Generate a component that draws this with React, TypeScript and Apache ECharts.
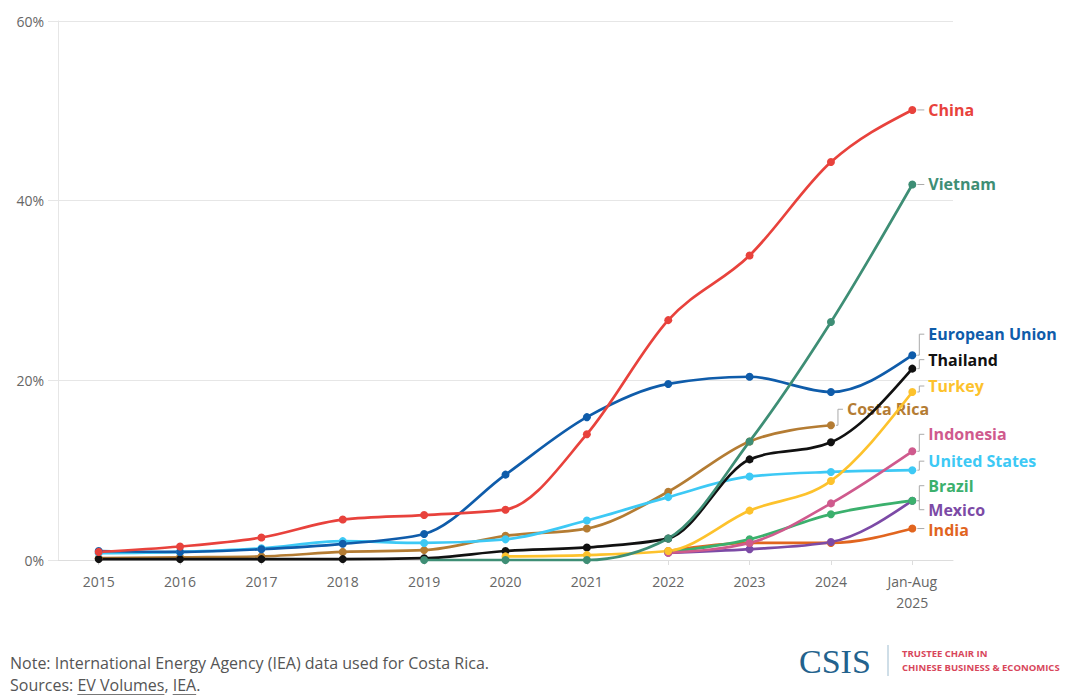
import React, { useEffect, useRef } from "react";
import * as echarts from "echarts";

// Share of EV sales by market, in percent
const categories = ["2015", "2016", "2017", "2018", "2019", "2020", "2021", "2022", "2023", "2024", "Jan-Aug\n2025"];

const china = [0.9, 1.5, 2.5, 4.5, 5.0, 5.6, 14.0, 26.7, 33.9, 44.3, 50.1];
const vietnam = [null, null, null, null, 0, 0, 0, 2.4, 13.2, 26.5, 41.8];
const europeanUnion = [1.0, 0.9, 1.2, 1.8, 2.9, 9.5, 15.9, 19.6, 20.4, 18.7, 22.8];
const thailand = [0.1, 0.1, 0.1, 0.1, 0.2, 1.0, 1.4, 2.4, 11.2, 13.1, 21.3];
const turkey = [null, null, null, null, null, 0.4, 0.55, 1.0, 5.5, 8.8, 18.7];
const costaRica = [0.2, 0.3, 0.4, 0.9, 1.1, 2.7, 3.5, 7.6, 13.2, 15.0, null];
const indonesia = [null, null, null, null, null, null, null, 0.8, 1.9, 6.3, 12.1];
const unitedStates = [0.75, 0.9, 1.3, 2.1, 1.9, 2.3, 4.4, 7.0, 9.3, 9.8, 10.0];
const brazil = [null, null, null, null, null, null, null, 0.9, 2.3, 5.1, 6.6];
const mexico = [null, null, null, null, null, null, null, 0.8, 1.2, 2.0, 6.6];
const india = [null, null, null, null, null, null, null, 1.0, 1.9, 1.9, 3.5];

const yMin = 0;
const yMax = 60;
const yStep = 20;

const noteText = "Note: International Energy Agency (IEA) data used for Costa Rica.";
const sourcePrefix = "Sources: ";
const sourceLinks = ["EV Volumes", "IEA"];

// Drawing order: later entries sit on top
const seriesDefs: { name: string; data: (number | null)[]; color: string }[] = [
  { name: "Costa Rica", data: costaRica, color: "#b47c33" },
  { name: "United States", data: unitedStates, color: "#3dc9f5" },
  { name: "India", data: india, color: "#e1651f" },
  { name: "Mexico", data: mexico, color: "#7c4aa6" },
  { name: "Brazil", data: brazil, color: "#3bb06d" },
  { name: "Indonesia", data: indonesia, color: "#cf5a8d" },
  { name: "Thailand", data: thailand, color: "#111111" },
  { name: "European Union", data: europeanUnion, color: "#0f5caa" },
  { name: "China", data: china, color: "#e8423c" },
  { name: "Turkey", data: turkey, color: "#fdc22c" },
  { name: "Vietnam", data: vietnam, color: "#3e8e75" },
];

// Vertical nudges (px) for the end labels so they don't collide
const labelShift: Record<string, number> = {
  China: 0,
  Vietnam: 0,
  "European Union": -21,
  Thailand: -9,
  Turkey: -6,
  "Costa Rica": -16,
  Indonesia: -17,
  "United States": -9,
  Brazil: -15,
  Mexico: 9,
  India: 1,
};

const FONT = "'Open Sans', 'Noto Sans', sans-serif";
const LINE_WIDTH = 2.7;

function measure(text: string, font: string): number {
  const c = document.createElement("canvas").getContext("2d");
  if (!c) return text.length * 7;
  c.font = font;
  return c.measureText(text).width;
}

// Monotone cubic (Steffen style) path through pixel points
function monotonePath(pts: number[][]): string {
  const n = pts.length;
  if (n === 0) return "";
  if (n === 1) return `M${pts[0][0]},${pts[0][1]}`;
  const sign = (v: number) => (v < 0 ? -1 : 1);
  const h: number[] = [];
  const s: number[] = [];
  for (let i = 0; i < n - 1; i++) {
    h.push(pts[i + 1][0] - pts[i][0]);
    s.push((pts[i + 1][1] - pts[i][1]) / h[i]);
  }
  const t: number[] = new Array(n).fill(0);
  for (let i = 1; i < n - 1; i++) {
    const s0 = s[i - 1];
    const s1 = s[i];
    const p = (s0 * h[i] + s1 * h[i - 1]) / (h[i - 1] + h[i]);
    t[i] = (sign(s0) + sign(s1)) * Math.min(Math.abs(s0), Math.abs(s1), 0.5 * Math.abs(p)) || 0;
  }
  if (n === 2) {
    t[0] = s[0];
    t[1] = s[0];
  } else {
    t[0] = (3 * s[0] - t[1]) / 2;
    t[n - 1] = (3 * s[n - 2] - t[n - 2]) / 2;
  }
  let d = `M${pts[0][0]},${pts[0][1]}`;
  for (let i = 0; i < n - 1; i++) {
    const [x0, y0] = pts[i];
    const [x1, y1] = pts[i + 1];
    const dx = (x1 - x0) / 3;
    d += ` C${x0 + dx},${y0 + dx * t[i]} ${x1 - dx},${y1 - dx * t[i + 1]} ${x1},${y1}`;
  }
  return d;
}

export default function App() {
  const ref = useRef<HTMLDivElement>(null);

  useEffect(() => {
    document.body.style.margin = "0";
    if (!ref.current) return;
    const chart = echarts.init(ref.current, undefined, { renderer: "svg" });

    const series: any[] = [];
    seriesDefs.forEach((s) => {
      const pairs = s.data
        .map((v, i) => (v == null ? null : [i, v]))
        .filter((p) => p !== null) as number[][];
      // Smoothed connecting curve
      series.push({
        name: s.name,
        type: "custom",
        coordinateSystem: "cartesian2d",
        data: pairs,
        encode: { x: 0, y: 1 },
        silent: true,
        renderItem: (params: any, api: any) => {
          if (params.dataIndex !== 0) return { type: "group", children: [] };
          const px = pairs.map((p) => api.coord(p));
          return {
            type: "path",
            shape: { pathData: monotonePath(px) },
            style: { stroke: s.color, lineWidth: LINE_WIDTH, fill: "none", lineJoin: "round", lineCap: "round" },
          };
        },
      });
      // Data points
      series.push({
        name: s.name,
        type: "scatter",
        data: pairs,
        symbol: "circle",
        symbolSize: 8,
        itemStyle: { color: s.color, opacity: 1 },
        emphasis: { disabled: true },
        silent: true,
      });
    });

    chart.setOption({
      animation: false,
      backgroundColor: "#ffffff",
      grid: { left: 58, right: 132, top: 21, bottom: 137, containLabel: false },
      xAxis: {
        type: "category",
        data: categories,
        boundaryGap: true,
        axisLine: { show: true, lineStyle: { color: "#dddddd", width: 1 } },
        axisTick: { show: true, alignWithLabel: true, length: 5, lineStyle: { color: "#dddddd" } },
        axisLabel: { color: "#666666", fontSize: 14, fontFamily: FONT, margin: 11, lineHeight: 21, interval: 0 },
        splitLine: { show: false },
      },
      yAxis: {
        type: "value",
        min: yMin,
        max: yMax,
        interval: yStep,
        axisLine: { show: true, lineStyle: { color: "#e6e6e6", width: 1 } },
        axisTick: { show: true, length: 10, lineStyle: { color: "#e6e6e6" } },
        axisLabel: { color: "#666666", fontSize: 14, fontFamily: FONT, margin: 14, formatter: "{value}%" },
        splitLine: { show: true, lineStyle: { color: "#e6e6e6", width: 1 } },
      },
      series,
    });

    // End labels with small bracket connectors
    const graphics: any[] = [];
    seriesDefs.forEach((s) => {
      let last = -1;
      s.data.forEach((v, i) => {
        if (v != null) last = i;
      });
      if (last < 0) return;
      const [px, py] = chart.convertToPixel({ gridIndex: 0 }, [last, s.data[last] as number]) as number[];
      const ly = py + (labelShift[s.name] || 0);
      const bx = px + 7;
      const pts =
        Math.abs(ly - py) < 2
          ? [[px + 5, py], [px + 12, py]]
          : [[px + 5, py], [bx, py], [bx, ly], [px + 12, ly]];
      graphics.push({
        type: "polyline",
        silent: true,
        shape: { points: pts },
        style: { stroke: "#aaaaaa", lineWidth: 1, fill: null },
      });
      graphics.push({
        type: "text",
        silent: true,
        x: px + 16,
        y: ly,
        style: {
          text: s.name,
          fill: s.color,
          fontSize: 16,
          lineHeight: 16,
          fontWeight: "bold",
          fontFamily: FONT,
          verticalAlign: "middle",
          align: "left",
        },
      });
    });

    // Footnotes
    const noteSize = 16;
    const noteFont = `${noteSize}px ${FONT}`;
    const noteStyle = { fill: "#555555", fontSize: noteSize, lineHeight: 18, fontFamily: FONT, verticalAlign: "middle" };
    const srcY = 685;
    graphics.push({ type: "text", silent: true, x: 10, y: 663, style: { ...noteStyle, text: noteText } });
    let sx = 10;
    graphics.push({ type: "text", silent: true, x: sx, y: srcY, style: { ...noteStyle, text: sourcePrefix } });
    sx += measure(sourcePrefix, noteFont);
    sourceLinks.forEach((link, i) => {
      const w = measure(link, noteFont);
      graphics.push({ type: "text", silent: true, x: sx, y: srcY, style: { ...noteStyle, text: link } });
      graphics.push({
        type: "line",
        silent: true,
        shape: { x1: sx, y1: 694.5, x2: sx + w, y2: 694.5 },
        style: { stroke: "#777777", lineWidth: 1 },
      });
      sx += w;
      const sep = i < sourceLinks.length - 1 ? ", " : ".";
      graphics.push({ type: "text", silent: true, x: sx, y: srcY, style: { ...noteStyle, text: sep } });
      sx += measure(sep, noteFont);
    });

    // Logo block
    graphics.push({
      type: "text",
      silent: true,
      x: 799,
      y: 661,
      style: {
        text: "CSIS",
        fill: "#23628d",
        fontSize: 34,
        fontFamily: "'Liberation Serif', 'DejaVu Serif', serif",
        verticalAlign: "middle",
      },
    });
    graphics.push({
      type: "line",
      silent: true,
      shape: { x1: 888, y1: 645, x2: 888, y2: 676 },
      style: { stroke: "#9fbdd0", lineWidth: 1 },
    });
    const logoSub = { fill: "#d8465b", fontSize: 9.5, fontWeight: "bold", fontFamily: FONT, verticalAlign: "middle" };
    graphics.push({ type: "text", silent: true, x: 902, y: 653, style: { ...logoSub, text: "TRUSTEE CHAIR IN" } });
    graphics.push({ type: "text", silent: true, x: 902, y: 667, style: { ...logoSub, text: "CHINESE BUSINESS & ECONOMICS" } });

    chart.setOption({ graphic: graphics });

    return () => chart.dispose();
  }, []);

  return <div ref={ref} style={{ width: 1085, height: 697 }} />;
}
